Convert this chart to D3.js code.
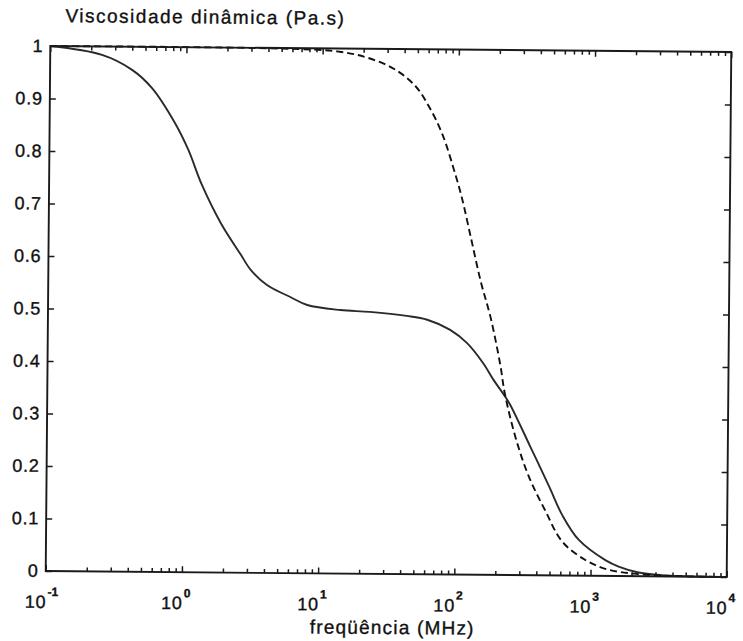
<!DOCTYPE html>
<html>
<head>
<meta charset="utf-8">
<script src="https://cdn.jsdelivr.net/npm/d3@7"></script>
<style>
  body { margin: 0; background: #fff; }
  svg { display: block; }
  text { font-family: "Liberation Sans", Arial, Helvetica, sans-serif; fill: #111; stroke: #111; stroke-width: 0.35; }
</style>
</head>
<body>
<svg id="chart" width="743" height="641"></svg>
<script>
// ---- data ----
const freqSolid = [0.1, 0.24, 0.40, 0.56, 0.83, 1.05, 1.31, 1.84, 2.58, 3.06, 4.06, 6.0, 8.0, 14, 23, 43, 61, 90, 120, 158, 188, 223, 250, 350, 491, 615, 817, 1282, 1606, 2254, 3500, 10000];
const viscSolid = [1.0, 0.984, 0.956, 0.922, 0.856, 0.804, 0.741, 0.665, 0.606, 0.577, 0.548, 0.526, 0.511, 0.502, 0.499, 0.492, 0.485, 0.466, 0.441, 0.403, 0.372, 0.345, 0.325, 0.248, 0.169, 0.115, 0.068, 0.030, 0.018, 0.007, 0.002, 0.0];
const freqDash = [0.1, 5, 13.3, 22, 34.6, 48.5, 60.8, 76.2, 95.5, 107, 127, 150, 178, 211, 229, 279, 350, 464, 615, 914, 1350, 2254, 4000, 10000];
const viscDash = [1.0, 0.999, 0.994, 0.982, 0.96, 0.929, 0.891, 0.840, 0.764, 0.72, 0.638, 0.558, 0.49, 0.40, 0.345, 0.258, 0.186, 0.122, 0.065, 0.030, 0.012, 0.004, 0.001, 0.0];
const yTicks = [0, 0.1, 0.2, 0.3, 0.4, 0.5, 0.6, 0.7, 0.8, 0.9, 1];
const yTickLabels = ["0", "0.1", "0.2", "0.3", "0.4", "0.5", "0.6", "0.7", "0.8", "0.9", "1"];
const xDecades = [0.1, 1, 10, 100, 1000, 10000];
const xExponents = ["-1", "0", "1", "2", "3", "4"];
const yLabel = "Viscosidade dinâmica (Pa.s)";
const xLabel = "freqüência (MHz)";

// ---- layout ----
const L = 48, R = 729, T = 49, B = 574;
const svg = d3.select("#chart");
const root = svg.append("g").attr("transform", "rotate(0.5, 388, 311)");
const x = d3.scaleLog().domain([0.1, 10000]).range([L, R]);
const y = d3.scaleLinear().domain([0, 1]).range([B, T]);

// minor ticks
const minor = [];
for (let d = 0; d < 5; d++) for (let k = 2; k <= 9; k++) minor.push(xDecades[d] * k);

const axisColor = "#1a1a1a";
const g = root.append("g");

// curves
const lineGen = d3.line().x(d => x(d[0])).y(d => y(d[1])).curve(d3.curveCatmullRom.alpha(0.5));
g.append("path")
  .datum(freqSolid.map((f, i) => [f, viscSolid[i]]))
  .attr("d", lineGen).attr("fill", "none").attr("stroke", "#2a2a2a").attr("stroke-width", 1.9);
g.append("path")
  .datum(freqDash.map((f, i) => [f, viscDash[i]]))
  .attr("d", lineGen).attr("fill", "none").attr("stroke", "#111").attr("stroke-width", 1.9)
  .attr("stroke-dasharray", "7,4");

// frame
g.append("rect").attr("x", L).attr("y", T).attr("width", R - L).attr("height", B - T)
  .attr("fill", "none").attr("stroke", axisColor).attr("stroke-width", 1.9);

// axes via d3 axis generators (inward ticks)
const xb = root.append("g").attr("transform", `translate(0,${B})`)
  .call(d3.axisBottom(x).tickValues(xDecades).tickSize(-6).tickFormat(""));
const xbm = root.append("g").attr("transform", `translate(0,${B})`)
  .call(d3.axisBottom(x).tickValues(minor).tickSize(-4).tickFormat(""));
const xt = root.append("g").attr("transform", `translate(0,${T})`)
  .call(d3.axisTop(x).tickValues(xDecades).tickSize(-6).tickFormat(""));
const xtm = root.append("g").attr("transform", `translate(0,${T})`)
  .call(d3.axisTop(x).tickValues(minor).tickSize(-4).tickFormat(""));
const yl = root.append("g").attr("transform", `translate(${L},0)`)
  .call(d3.axisLeft(y).tickValues(yTicks).tickSize(-6).tickFormat(""));
const yr = root.append("g").attr("transform", `translate(${R},0)`)
  .call(d3.axisRight(y).tickValues(yTicks).tickSize(-6).tickFormat(""));
[xb, xbm, xt, xtm, yl, yr].forEach(a => {
  a.select(".domain").remove();
  a.selectAll("line").attr("stroke", axisColor).attr("stroke-width", 1.5);
});

// y tick labels
root.append("g").selectAll("text").data(yTicks).join("text")
  .attr("x", 41).attr("y", d => y(d) + 6)
  .attr("text-anchor", "end").attr("font-size", 18).attr("letter-spacing", 0.8)
  .text((d, i) => yTickLabels[i]);

// x tick labels: 10 with superscript
const xl = root.append("g").selectAll("g").data(xDecades).join("g");
xl.append("text").attr("x", d => x(d) + 1).attr("y", 611)
  .attr("text-anchor", "end").attr("font-size", 18).attr("letter-spacing", 0.8).text("10");
xl.append("text").attr("x", d => x(d) + 2).attr("y", 599)
  .attr("text-anchor", "start").attr("font-size", 12).attr("font-weight", "bold")
  .text((d, i) => xExponents[i]);

// axis labels
root.append("text").attr("x", 63).attr("y", 25).attr("font-size", 19).attr("letter-spacing", 1.5).text(yLabel);
root.append("text").attr("x", 395).attr("y", 634).attr("text-anchor", "middle")
  .attr("font-size", 19).attr("letter-spacing", 1.2).text(xLabel);
</script>
</body>
</html>
